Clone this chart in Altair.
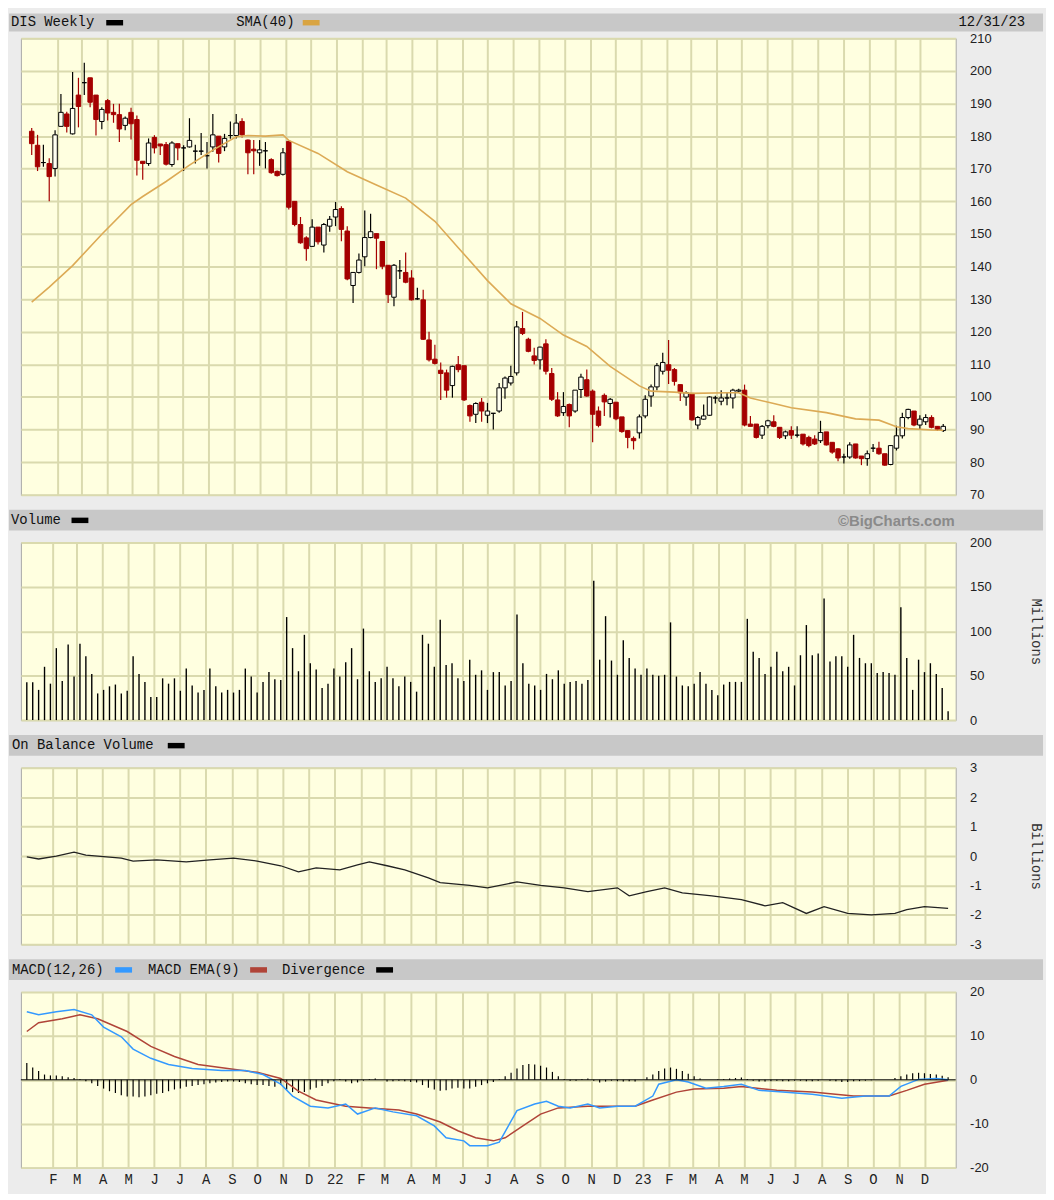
import altair as alt
import pandas as pd

# ---------------- data ----------------
opens = [181.5,177.2,171.9,171.6,170.1,183.0,186.8,180.7,192.6,196.4,
         197.9,192.6,184.5,190.9,187.3,186.6,183.3,187.3,185.1,172.3,
         171.6,179.6,177.6,177.4,171.3,177.7,176.4,176.7,175.4,175.4,
         174.0,176.7,180.0,176.7,180.2,180.2,184.5,178.8,176.0,174.9,
         175.5,172.8,169.2,168.3,178.4,160.0,152.9,148.8,146.2,152.1,
         146.6,152.4,155.2,157.8,150.9,134.2,138.2,143.0,148.9,150.1,
         147.7,140.4,130.6,138.7,138.2,136.5,130.1,129.8,117.5,111.6,
         108.2,107.4,103.5,109.9,109.6,97.4,94.7,98.4,94.4,95.0,
         95.7,102.8,104.3,107.4,121.0,117.7,112.6,111.4,116.3,107.2,
         99.1,95.2,97.7,95.7,102.3,105.3,101.8,95.7,100.5,98.0,
         98.4,93.9,89.7,87.3,89.0,94.2,100.3,103.1,107.9,109.9,
         108.4,103.8,100.0,101.1,91.4,93.2,94.4,99.7,98.7,99.7,
         99.7,101.8,102.1,91.7,91.7,88.3,91.2,92.4,90.7,88.1,
         89.7,88.3,88.6,87.6,87.1,86.6,89.3,86.1,84.1,81.6,
         81.6,85.6,81.9,81.1,84.3,84.3,82.6,79.3,84.3,88.1,
         93.7,95.7,91.4,92.4,93.7,91.0,89.7]
highs = [182.5,180.4,177.4,173.2,181.8,192.9,187.5,199.7,197.9,202.5,
         197.9,192.6,188.9,191.4,189.9,189.9,186.0,188.7,186.3,172.3,
         179.3,180.3,177.6,178.2,178.4,177.7,177.2,185.5,177.4,181.0,
         178.2,186.8,180.0,180.7,184.5,186.8,185.5,179.0,178.8,178.8,
         178.2,173.2,169.5,176.4,178.6,160.0,155.2,149.3,154.5,152.1,
         153.4,155.5,159.8,158.5,152.4,138.2,144.0,157.2,156.2,150.1,
         147.7,140.4,140.8,142.0,144.3,138.9,133.5,132.9,120.0,116.0,
         110.6,108.4,109.6,112.6,109.6,97.7,98.4,99.7,98.2,95.0,
         104.3,106.3,109.6,123.3,126.1,118.2,115.1,115.4,117.7,108.9,
         101.5,101.5,98.0,102.1,107.1,108.4,102.3,97.1,101.1,99.7,
         98.4,93.9,89.7,87.9,94.6,100.5,103.8,110.4,113.6,117.5,
         108.9,103.8,101.8,101.1,94.2,97.7,100.2,100.4,102.1,101.2,
         102.5,102.5,103.8,94.2,91.7,91.4,93.0,94.4,90.7,89.7,
         91.0,91.0,88.6,88.1,88.3,92.7,89.3,86.1,84.3,82.6,
         86.1,85.6,81.9,83.6,85.6,86.3,82.6,85.3,91.2,95.2,
         96.4,95.7,94.4,94.7,94.4,91.0,91.7]
lows = [174.2,169.3,170.6,160.0,167.6,183.0,181.1,180.5,182.7,192.6,
        188.9,180.2,182.1,184.8,184.1,178.2,181.8,179.0,167.9,166.6,
        170.9,174.7,174.2,171.0,170.6,172.6,169.3,176.5,171.6,174.2,
        170.1,175.2,171.9,175.4,179.2,179.3,179.6,168.3,168.3,170.9,
        170.1,168.5,167.6,167.9,157.5,152.4,147.0,141.8,146.0,146.8,
        144.3,150.7,152.4,147.8,135.8,128.8,137.9,140.1,148.7,139.2,
        139.2,128.8,127.8,136.2,134.9,129.6,129.8,117.5,110.9,110.0,
        99.1,99.8,99.8,107.6,98.8,92.4,92.0,92.4,92.0,90.0,
        95.2,99.5,103.5,106.6,119.0,113.7,110.0,108.4,106.9,98.8,
        93.9,94.2,90.7,95.2,99.7,100.1,86.1,90.7,94.2,93.7,
        92.9,89.0,84.3,83.9,87.3,93.5,97.0,102.1,106.9,104.0,
        103.5,98.8,97.3,92.7,90.1,93.0,94.2,98.0,97.5,97.5,
        96.5,101.5,91.0,91.0,87.3,87.1,90.4,90.7,87.1,87.1,
        87.1,87.6,85.1,84.6,85.3,85.9,85.1,82.6,80.3,79.6,
        81.1,81.1,79.1,78.9,83.1,82.3,78.9,79.1,83.6,87.3,
        93.2,91.0,90.1,91.4,90.4,89.6,89.3]
closes = [177.7,170.6,171.9,167.6,180.4,187.3,183.0,188.5,189.1,196.4,
          190.4,185.1,188.2,187.1,186.6,182.2,185.5,183.8,172.6,171.6,
          177.9,176.4,177.0,171.4,177.9,176.4,176.4,178.7,175.4,175.4,
          174.0,180.4,174.7,179.3,180.2,184.0,180.4,174.9,175.5,175.8,
          175.5,168.8,167.9,174.9,158.2,152.9,147.3,145.5,152.1,147.6,
          152.9,154.5,157.5,151.4,136.2,138.2,142.0,148.9,150.7,148.7,
          140.1,131.4,140.4,138.7,135.2,129.8,130.1,117.7,111.4,110.3,
          107.2,102.1,109.4,108.4,99.1,94.2,98.0,95.7,95.7,95.0,
          102.8,105.8,106.3,121.5,119.5,114.0,111.2,115.3,107.9,99.3,
          94.2,97.1,94.2,102.1,106.1,100.3,94.7,91.3,98.5,99.3,
          93.3,89.4,87.6,86.6,93.9,99.3,103.1,109.6,110.6,108.2,
          104.8,101.3,101.3,93.0,93.7,94.2,100.0,99.7,99.7,99.7,
          102.1,102.1,91.4,91.0,87.6,91.0,92.7,91.0,87.6,89.3,
          88.3,88.3,85.6,85.1,85.6,89.1,85.3,83.1,81.3,81.6,
          85.3,81.3,81.1,82.6,84.3,82.6,79.1,85.1,88.1,93.7,
          96.2,91.4,93.2,93.7,90.7,90.1,91.0]
volumes = [42.6,42.6,34,60,41,81,44,85,49,86,
           72,52,30,34,38,40,30,33,72,52,
           43,26,26,47,41,47,33,58,39,31,
           34,58,38,31,34,31,34,58,49,31,
           43,54,46,45,116,81,55,96,64,57,
           36,41,58,49,65,81,46,103,55,43,
           47,60,47,38,49,43,32,96,86,60,
           113,62,64,47,44,68,51,56,34,54,
           54,39,44,119,64,41,39,34,52,46,
           56,41,43,44,41,45,157,68,117,67,
           51,90,70,58,51,58,51,50,51,110,
           49,39,38,41,54,41,34,28,40,43,
           43,43,114,77,70,52,60,77,55,60,
           39,73,107,73,75,137,66,72,72,60,
           96,70,64,64,53,54,53,51,127,70,
           34,68,54,64,52,36,10]
divergence = [3.8,2.8,2.0,1.2,1.0,1.0,0.8,0.6,0.4,0.2,
              -0.3,-0.8,-1.4,-2.0,-2.6,-3.0,-3.5,-3.8,-3.8,-4.0,
              -3.8,-3.5,-3.2,-3.0,-2.6,-2.2,-2.0,-1.6,-1.4,-1.2,
              -1.0,-0.8,-0.6,-0.5,-0.4,-0.4,-0.5,-0.8,-1.0,-1.2,
              -1.2,-1.4,-1.6,-1.2,-2.2,-2.8,-3.0,-2.8,-2.2,-1.8,
              -1.4,-0.8,-0.3,0.2,-0.4,-0.8,-0.6,-0.2,0.2,0.3,
              0.0,-0.4,-0.3,-0.2,-0.3,-0.5,-0.6,-1.2,-1.8,-2.2,
              -2.5,-2.4,-2.0,-1.8,-2.0,-2.0,-1.6,-1.2,-0.8,-0.5,
              0.2,0.8,1.6,2.6,3.4,3.6,3.5,3.2,2.8,1.8,
              0.8,0.2,-0.2,-0.2,0.2,0.3,-0.2,-0.6,-0.4,-0.2,
              -0.3,-0.4,-0.3,-0.4,0.0,0.6,1.2,2.0,2.6,2.8,
              2.5,2.0,1.4,0.8,0.3,0.0,0.0,0.1,0.2,0.3,
              0.4,0.5,0.2,-0.2,-0.4,-0.4,-0.3,-0.2,-0.3,-0.3,
              -0.2,-0.2,-0.3,-0.3,-0.2,0.0,-0.2,-0.3,-0.5,-0.5,
              -0.3,-0.3,-0.2,-0.1,0.0,0.0,0.0,0.4,0.8,1.2,
              1.5,1.6,1.5,1.3,1.2,0.9,0.6]

sma_weeks = [1,4,8,13,18,20,24,28,32,36,38,41,44,45,50,55,60,65,70,74,79,83,88,92,96,
             100,105,107,111,114,120,122,124,128,131,137,142,146,149,151,155,157]
sma_vals = [129.1,133.7,140.3,149.9,159.0,161.5,166.1,171.1,175.7,179.8,180.2,180.0,180.4,178.7,
            174.7,169.1,165.0,161.0,153.9,145.8,135.7,128.6,124.1,119.0,115.5,
            109.4,103.4,101.8,101.5,101.1,101.3,101.3,99.7,98.0,96.7,95.2,93.3,92.9,90.9,90.3,89.9,89.8]

obv_weeks = [1,3,6,9,11,13,17,19,23,28,32,36,40,44,47,50,54,57,59,62,65,69,71,76,79,84,88,92,96,
             101,103,106,109,112,117,122,126,129,133,136,140,144,148,150,153,157]
obv_vals = [-0.03,-0.1,0.0,0.13,0.03,0.0,-0.07,-0.17,-0.13,-0.2,-0.13,-0.07,-0.17,-0.33,-0.54,
            -0.4,-0.47,-0.3,-0.2,-0.33,-0.47,-0.74,-0.9,-1.0,-1.08,-0.88,-1.0,-1.08,-1.21,
            -1.08,-1.35,-1.21,-1.08,-1.25,-1.35,-1.48,-1.69,-1.58,-1.95,-1.72,-1.95,-2.0,-1.95,
            -1.82,-1.72,-1.78]

macd_weeks = [1,3,6,9,12,14,17,19,22,25,29,34,38,41,44,46,49,52,55,57,60,63,67,70,72,75,76,79,
              81,82,84,87,89,91,93,96,98,101,104,107,108,111,113,116,119,122,125,129,134,139,
              143,147,149,152,155,157]
macd_vals = [15.5,14.8,15.5,16.0,14.8,12.0,9.8,7.0,4.9,3.5,2.6,2.1,2.1,1.2,-1.0,-3.7,-6.0,-6.4,
             -5.5,-7.8,-6.4,-7.3,-8.2,-10.5,-13.2,-13.9,-15.0,-15.0,-14.2,-11.8,-7.0,-5.5,-4.9,
             -6.0,-6.4,-5.5,-6.4,-6.0,-6.0,-3.7,-1.0,0.0,-0.5,-1.9,-1.5,-1.0,-2.4,-2.8,-3.3,
             -4.2,-3.7,-3.7,-1.5,0.1,0.3,0.0]

ema_weeks = [1,3,7,10,13,18,22,26,30,35,40,44,47,50,55,59,64,67,71,74,77,80,82,85,88,91,96,
             100,104,107,111,114,119,122,128,134,141,147,150,153,157]
ema_vals = [11.0,13.0,13.9,14.8,13.9,11.0,7.6,5.3,3.5,2.6,1.7,0.3,-2.6,-4.6,-6.0,-6.4,-6.9,
            -7.8,-9.6,-11.6,-13.2,-13.9,-13.2,-10.5,-7.8,-6.4,-6.0,-6.0,-6.0,-4.6,-2.8,-2.1,
            -1.9,-1.5,-2.4,-2.8,-3.7,-3.7,-2.4,-1.0,-0.1]

# ---------------- tables ----------------
START = pd.Timestamp("2021-01-01")
def wk(weeks):
    return [START + pd.Timedelta(days=7 * (w - 1)) for w in weeks]

n = len(opens)
df = pd.DataFrame({
    "date": wk(range(1, n + 1)),
    "open": opens, "high": highs, "low": lows, "close": closes,
    "volume": volumes, "div": divergence,
})
df["dir"] = ["up" if c >= o else "down" for o, c in zip(opens, closes)]
sma_df = pd.DataFrame({"date": wk(sma_weeks), "v": sma_vals})
obv_df = pd.DataFrame({"date": wk(obv_weeks), "v": obv_vals})
macd_df = pd.DataFrame({"date": wk(macd_weeks), "v": macd_vals})
ema_df = pd.DataFrame({"date": wk(ema_weeks), "v": ema_vals})
one = pd.DataFrame({"k": [0]})

RED = "#a50000"
GRID = "#dadaae"
W = 942
XDOM = [alt.DateTime(year=2020, month=12, date=25), alt.DateTime(year=2024, month=1, date=7)]
MONTHS = [alt.DateTime(year=y, month=m, date=1)
          for y in (2021, 2022, 2023) for m in range(1, 13) if not (y == 2021 and m == 1)]
XS = alt.Scale(domain=XDOM)

X_PLAIN = alt.Axis(values=MONTHS, grid=True, ticks=False, domain=False, labels=False, title=None)
X_LABELS = alt.Axis(values=MONTHS, grid=True, ticks=False, domain=False, title=None,
                    labelExpr="month(datum.value) == 0 ? timeFormat(datum.value, '%y') : "
                              "slice(timeFormat(datum.value, '%b'), 0, 1)",
                    labelFont="Liberation Mono", labelFontSize=14, labelColor="#222",
                    labelPadding=5, labelOverlap=False, labelFlush=False)


def yaxis(values, title=None, h=178):
    kw = dict(orient="right", values=values, grid=True, ticks=False, domain=False,
              labelExpr="'' + datum.value", labelFont="Liberation Sans", labelFontSize=13,
              labelColor="#222", labelPadding=14, labelOverlap=False)
    if title:
        kw.update(title=title, titleFont="Liberation Mono", titleFontSize=14,
                  titleFontWeight="normal", titleColor="#333", titleAngle=90,
                  titleX=80, titleY=h / 2, titleAlign="center", titleBaseline="middle")
    else:
        kw.update(title=None)
    return alt.Axis(**kw)


def header(items, top=-33, bottom=-12):
    mid = (top + bottom) / 2
    layers = [alt.Chart(one).mark_rect(color="#c8c8c8").encode(
        x=alt.value(-12), x2=alt.value(1030), y=alt.value(top), y2=alt.value(bottom))]
    for kind, xpos, val in items:
        if kind == "text":
            layers.append(alt.Chart(one).mark_text(
                align="left", baseline="middle", font="Liberation Mono", fontSize=14,
                color="#111").encode(x=alt.value(xpos), y=alt.value(mid), text=alt.value(val)))
        elif kind == "rtext":
            layers.append(alt.Chart(one).mark_text(
                align="right", baseline="middle", font="Liberation Mono", fontSize=14,
                color="#111").encode(x=alt.value(xpos), y=alt.value(mid), text=alt.value(val)))
        elif kind == "brand":
            layers.append(alt.Chart(one).mark_text(
                align="right", baseline="middle", font="Liberation Sans", fontSize=15,
                fontWeight="bold", color="#8a8a8a").encode(
                x=alt.value(xpos), y=alt.value(mid + 1), text=alt.value(val)))
        else:
            layers.append(alt.Chart(one).mark_rect(color=val).encode(
                x=alt.value(xpos), x2=alt.value(xpos + 17),
                y=alt.value(mid - 2.5), y2=alt.value(mid + 3)))
    return layers


# ---------------- price panel ----------------
PH = 460
PS = alt.Scale(domain=[70, 210], nice=False, zero=False)
PA = yaxis(list(range(70, 211, 10)), h=PH)
px = alt.X("date:T", scale=XS, axis=X_PLAIN)
dir_color = alt.Scale(domain=["up", "down"], range=["#000000", RED])
dir_fill = alt.Scale(domain=["up", "down"], range=["#fffff0", RED])

wicks = alt.Chart(df).mark_rule(strokeWidth=1.2).encode(
    x=px, y=alt.Y("low:Q", scale=PS, axis=PA), y2="high:Q",
    color=alt.Color("dir:N", scale=dir_color, legend=None),
)
bodies = alt.Chart(df).mark_bar(size=4.5, strokeWidth=1).encode(
    x=px, y=alt.Y("open:Q", scale=PS, axis=PA), y2="close:Q",
    fill=alt.Fill("dir:N", scale=dir_fill, legend=None),
    stroke=alt.Stroke("dir:N", scale=dir_color, legend=None),
)
sma = alt.Chart(sma_df).mark_line(color="#dcaa55", strokeWidth=1.6).encode(
    x=px, y=alt.Y("v:Q", scale=PS, axis=PA))

price = alt.layer(
    *header([("text", -10, "DIS Weekly"), ("sw", 86, "#000000"),
             ("text", 217, "SMA(40)"), ("sw", 284, "#d9a441"),
             ("rtext", 1012, "12/31/23")], top=-25, bottom=-7),
    wicks, bodies, sma,
).properties(width=W, height=PH)

# ---------------- volume panel ----------------
vol = alt.layer(
    *header([("text", -10, "Volume"), ("sw", 51, "#000000"),
             ("brand", 941, "\u00a9BigCharts.com")]),
    alt.Chart(df).mark_rule(strokeWidth=1.4, color="#000").encode(
        x=alt.X("date:T", scale=XS, axis=X_PLAIN),
        y=alt.Y("volume:Q", scale=alt.Scale(domain=[0, 200], nice=False),
                axis=yaxis([0, 50, 100, 150, 200], "Millions", 179)),
        y2=alt.datum(0)),
).properties(width=W, height=179)

# ---------------- OBV panel ----------------
obv = alt.layer(
    *header([("text", -9, "On Balance Volume"), ("sw", 148, "#000000")]),
    alt.Chart(obv_df).mark_line(color="#222", strokeWidth=1.3).encode(
        x=alt.X("date:T", scale=XS, axis=X_PLAIN),
        y=alt.Y("v:Q", scale=alt.Scale(domain=[-3, 3], nice=False),
                axis=yaxis([-3, -2, -1, 0, 1, 2, 3], "Billions", 178))),
).properties(width=W, height=178)

# ---------------- MACD panel ----------------
MS = alt.Scale(domain=[-20, 20], nice=False)
MA = yaxis([-20, -10, 0, 10, 20], h=177)
mx = alt.X("date:T", scale=XS, axis=X_LABELS)
macd = alt.layer(
    *header([("text", -9, "MACD(12,26)"), ("sw", 95, "#3399ff"),
             ("text", 128, "MACD EMA(9)"), ("sw", 231, "#b04438"),
             ("text", 263, "Divergence"), ("sw", 358, "#000000")]),
    alt.Chart(df).mark_rule(strokeWidth=1.2, color="#000").encode(
        x=mx, y=alt.Y("div:Q", scale=MS, axis=MA), y2=alt.datum(0)),
    alt.Chart(ema_df).mark_line(color="#b04438", strokeWidth=1.5).encode(
        x=mx, y=alt.Y("v:Q", scale=MS, axis=MA)),
    alt.Chart(macd_df).mark_line(color="#3399ff", strokeWidth=1.5).encode(
        x=mx, y=alt.Y("v:Q", scale=MS, axis=MA)),
    alt.Chart(one).mark_rule(color="#000", strokeWidth=1).encode(
        y=alt.Y("datum_zero:Q", scale=MS, axis=MA)).transform_calculate(datum_zero="0"),
).properties(width=W, height=177)

chart = alt.vconcat(price, vol, obv, macd, spacing=48, bounds="flush").properties(
    padding={"left": 0, "top": 0, "right": 2, "bottom": 2}
).configure(background="#ececec").configure_view(
    fill="#ffffe0", stroke="#a8a8a8", strokeWidth=1
).configure_axis(gridColor=GRID, gridWidth=2)

chart.save("out.html", embed_options={"renderer": "svg", "actions": False})
